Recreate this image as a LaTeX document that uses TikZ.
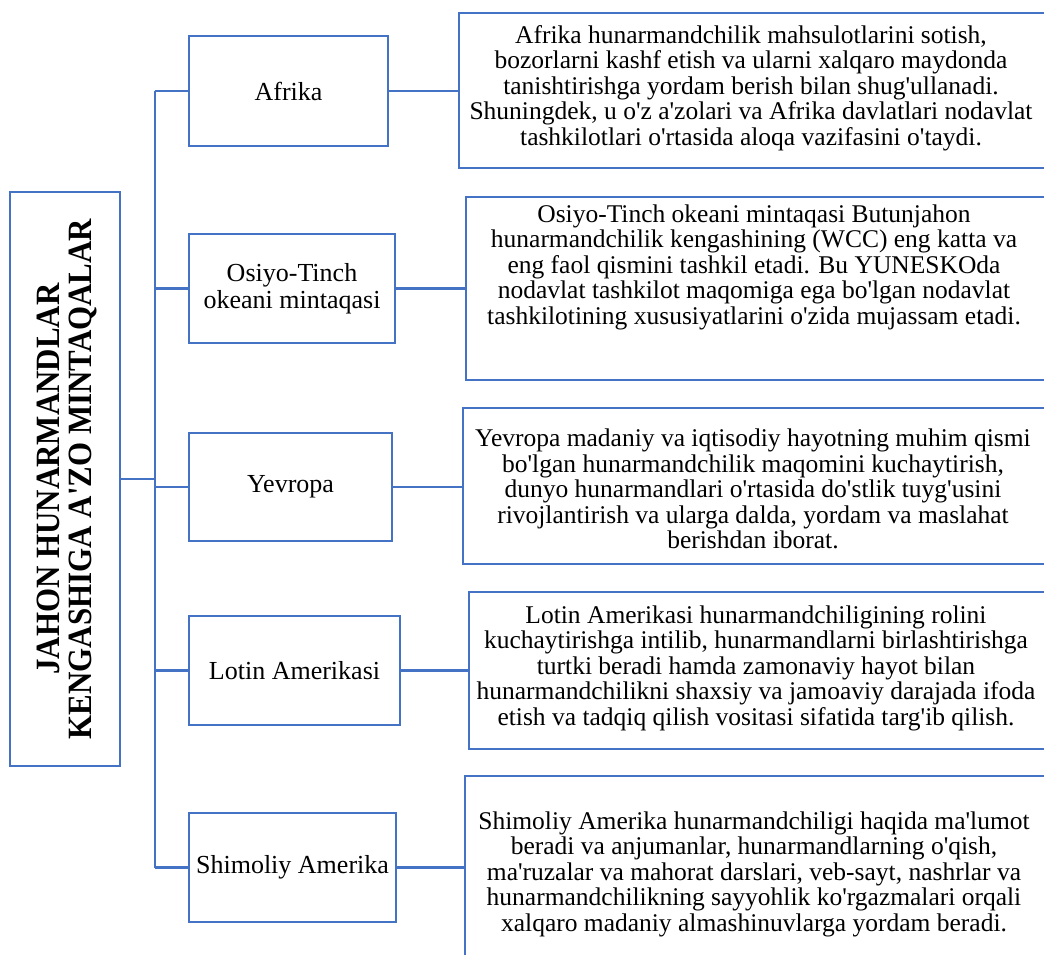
\documentclass[tikz,border=0pt]{standalone}
\usepackage{fontspec}
\setmainfont{Liberation Serif}[Ligatures=TeXOff]
\newfontfamily\titlefont{Liberation Serif}[Ligatures=TeXOff,FakeStretch=0.91]
\definecolor{bl}{RGB}{68,114,196}
\begin{document}
\begin{tikzpicture}[x=1pt,y=-1pt,
  box/.style={draw=bl,line width=2.8pt,inner sep=0pt,align=center},
  midbox/.style={box,minimum height=110pt,font=\fontsize{26}{27}\selectfont},
  txt/.style={inner sep=0pt,align=center,font=\fontsize{25.5}{25.5}\selectfont},
  link/.style={draw=bl,line width=2.8pt}]
\clip (0,0) rectangle (1044,954);
\useasboundingbox (0,0) rectangle (1044,954);
% title box
\node[box,minimum width=110pt,minimum height=574pt] (ttl) at (65,479) {};
\node[rotate=90,inner sep=0pt,align=center,font=\titlefont\bfseries\fontsize{34}{32}\selectfont] (ttltxt) at (67,479) {JAHON HUNARMANDLAR\\KENGASHIGA A'ZO MINTAQALAR};
% middle boxes
\node[midbox,minimum width=199pt] (mA) at (288.5,91) {Afrika};
\node[midbox,minimum width=206pt,minimum height=109pt] (mO) at (292,288.5) {Osiyo-Tinch\\okeani mintaqasi};
\node[midbox,minimum width=203pt,minimum height=108pt] (mY) at (290.5,487) {Yevropa};
\node[midbox,minimum width=211pt,minimum height=109pt] (mL) at (294.5,670.5) {Lotin Amerikasi};
\node[midbox,minimum width=207pt,minimum height=109pt] (mS) at (292.5,867.5) {Shimoliy Amerika};
% right boxes
\node[box,minimum width=589pt,minimum height=155pt] (rA) at (753.5,90.5) {};
\node[box,minimum width=582pt,minimum height=183pt] (rO) at (757,288.5) {};
\node[box,minimum width=585pt,minimum height=156pt] (rY) at (755.5,486) {};
\node[box,minimum width=579pt,minimum height=157pt] (rL) at (758.5,670.5) {};
\node[box,minimum width=583pt,minimum height=196pt] (rS) at (756.5,874) {};
% texts
\node[txt] (tA) at (751,88) {Afrika hunarmandchilik mahsulotlarini sotish,\\bozorlarni kashf etish va ularni xalqaro maydonda\\tanishtirishga yordam berish bilan shug'ullanadi.\\Shuningdek, u o'z a'zolari va Afrika davlatlari nodavlat\\tashkilotlari o'rtasida aloqa vazifasini o'taydi.};
\node[txt] (tO) at (754,267) {Osiyo-Tinch okeani mintaqasi Butunjahon\\hunarmandchilik kengashining (WCC) eng katta va\\eng faol qismini tashkil etadi. Bu YUNESKOda\\nodavlat tashkilot maqomiga ega bo'lgan nodavlat\\tashkilotining xususiyatlarini o'zida mujassam etadi.};
\node[txt] (tY) at (753,489) {Yevropa madaniy va iqtisodiy hayotning muhim qismi\\bo'lgan hunarmandchilik maqomini kuchaytirish,\\dunyo hunarmandlari o'rtasida do'stlik tuyg'usini\\rivojlantirish va ularga dalda, yordam va maslahat\\berishdan iborat.};
\node[txt] (tL) at (756,668) {Lotin Amerikasi hunarmandchiligining rolini\\kuchaytirishga intilib, hunarmandlarni birlashtirishga\\turtki beradi hamda zamonaviy hayot bilan\\hunarmandchilikni shaxsiy va jamoaviy darajada ifoda\\etish va tadqiq qilish vositasi sifatida targ'ib qilish.};
\node[txt] (tS) at (754,874) {Shimoliy Amerika hunarmandchiligi haqida ma'lumot\\beradi va anjumanlar, hunarmandlarning o'qish,\\ma'ruzalar va mahorat darslari, veb-sayt, nashrlar va\\hunarmandchilikning sayyohlik ko'rgazmalari orqali\\xalqaro madaniy almashinuvlarga yordam beradi.};
% connectors
\coordinate (tk) at (155,0);
\draw[link] (ttl.east) -- (ttl.east -| tk);
\draw[link] (mA.west -| tk) -- (mS.west -| tk);
\foreach \m in {mA,mO,mY,mL,mS}{\draw[link] (\m.west) -- (\m.west -| tk);}
\draw[link] (mA.east) -- (mA.east -| rA.west);
\draw[link] (mO.east) -- (mO.east -| rO.west);
\draw[link] (mY.east) -- (mY.east -| rY.west);
\draw[link] (mL.east) -- (mL.east -| rL.west);
\draw[link] (mS.east) -- (mS.east -| rS.west);
\end{tikzpicture}
\end{document}
